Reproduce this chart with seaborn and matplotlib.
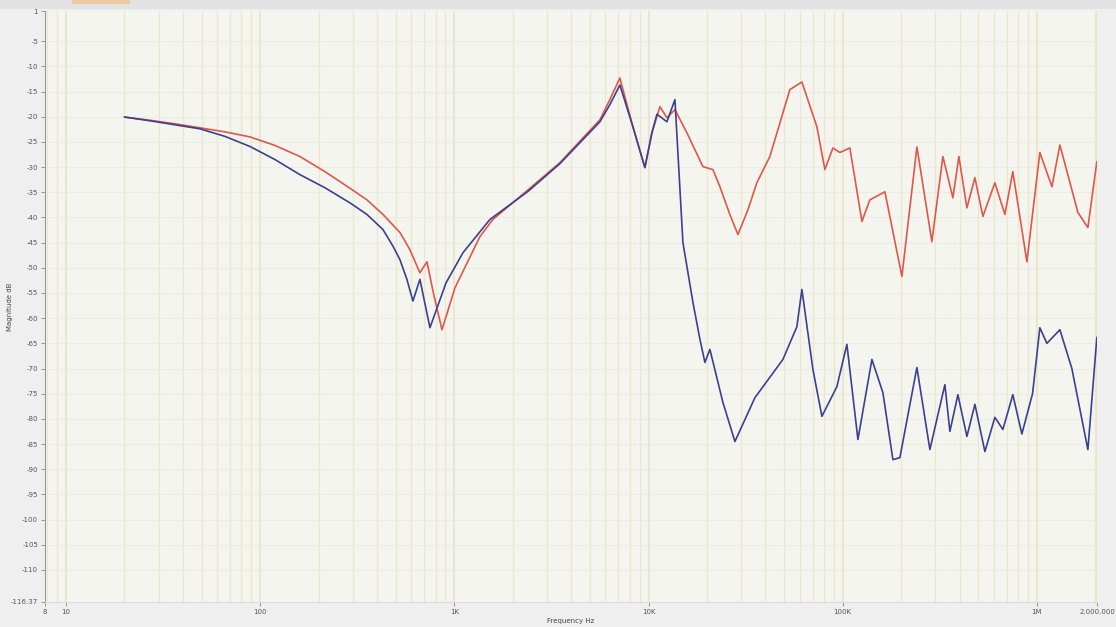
import matplotlib
matplotlib.use("Agg")
import matplotlib.pyplot as plt
import matplotlib.patches as mpatches
import seaborn as sns
import pandas as pd

# frequenze (Hz) e ampiezze (dB) - curva rossa
freq_red = [20, 27.1, 36.4, 49, 65.9, 88.6, 119.2, 160.3, 215.6, 290,
            354.8, 429, 525, 590.6, 665, 723, 780, 864, 1007, 1355,
            1580, 2400, 3500, 5620, 6324, 7120, 8313, 9580, 10410, 11450,
            12440, 13680, 15770, 19060, 21460, 23320, 26240, 28870, 32500, 36150,
            42170, 53480, 61650, 73660, 80980, 89040, 96740, 108900, 125600, 138000,
            164900, 201800, 241100, 287900, 328100, 369400, 396700, 436200, 479600, 527300,
            607700, 684300, 752000, 888400, 1036000, 1195000, 1314000, 1626000, 1831000, 2037000]
db_red = [-20.06, -20.7, -21.4, -22.2, -23.0, -24.0, -25.7, -27.9, -30.9, -34.2,
          -36.5, -39.4, -43.0, -46.4, -51.0, -48.8, -55.0, -62.3, -54.0, -43.8,
          -40.4, -34.5, -29.1, -20.6, -16.6, -12.3, -22.0, -30.1, -23.2, -18.0,
          -20.2, -18.6, -23.2, -29.9, -30.5, -33.9, -39.4, -43.4, -38.5, -33.1,
          -27.9, -14.6, -13.1, -22.0, -30.5, -26.2, -27.1, -26.2, -40.8, -36.5,
          -34.9, -51.7, -26.0, -44.8, -27.9, -36.1, -27.9, -38.1, -32.1, -39.8,
          -33.1, -39.4, -30.9, -48.8, -27.1, -33.9, -25.6, -39.0, -42.0, -28.9]

# curva blu
freq_blue = [20, 27.1, 36.4, 49, 65.9, 88.6, 119.2, 160.3, 215.6, 290,
             354.8, 429, 483, 525, 570, 612, 665, 749, 906, 1108,
             1525, 2400, 3500, 5620, 6324, 7120, 8313, 9580, 10410, 11050,
             12440, 13680, 15040, 16940, 18400, 19520, 20710, 24150, 27860, 35310,
             49220, 58090, 61650, 70270, 78160, 93350, 105100, 119800, 141400, 161100,
             181400, 197000, 241100, 281200, 336000, 356500, 392000, 436200, 479600, 539900,
             607700, 668300, 752000, 837000, 950000, 1036000, 1126000, 1314000, 1514000, 1831000,
             2037000]
db_blue = [-20.06, -20.8, -21.6, -22.4, -23.9, -25.9, -28.5, -31.5, -34.1, -37.1,
           -39.4, -42.4, -45.7, -48.4, -52.3, -56.6, -52.3, -61.9, -53.0, -47.0,
           -40.4, -34.8, -29.3, -21.0, -17.6, -13.7, -22.0, -30.1, -23.2, -19.5,
           -21.0, -16.6, -45.0, -56.9, -64.2, -68.8, -66.2, -76.7, -84.5, -75.8,
           -68.2, -61.7, -54.3, -70.2, -79.5, -73.6, -65.2, -84.1, -68.2, -74.8,
           -88.1, -87.7, -69.8, -86.1, -73.2, -82.5, -75.2, -83.5, -77.1, -86.5,
           -79.7, -82.1, -75.2, -83.0, -75.0, -61.9, -65.0, -62.3, -70.0, -86.1,
           -63.8]

ytick_vals = [1] + list(range(-5, -111, -5)) + [-116.37]
ytick_labels = ["1"] + [str(v) for v in range(-5, -111, -5)] + ["-116.37"]
xtick_vals = [7.8, 10, 100, 1000, 10000, 100000, 1000000, 2040000]
xtick_labels = ["8", "10", "100", "1K", "10K", "100K", "1M", "2.000.000"]

df_red = pd.DataFrame({"f": freq_red, "dB": db_red})
df_blue = pd.DataFrame({"f": freq_blue, "dB": db_blue})

sns.set_style("white")
plt.rcParams["font.family"] = ["DejaVu Sans"]

fig = plt.figure(figsize=(11.16, 6.27), dpi=100, facecolor="#efefef")
ax = fig.add_axes([45/1116, 1 - 602/627, (1097-45)/1116, (602-11)/627])
ax.set_facecolor("#f5f5ef")

ax.set_xscale("log")
ax.set_xlim(7.8, 2040000)
ax.set_ylim(-116.37, 1)

# griglia tenue
ax.grid(True, which="major", axis="x", color="#e9e4c4", linewidth=1.2)
ax.grid(True, which="minor", axis="x", color="#ece8cf", linewidth=1.0)
for v in range(-5, -111, -5):
    ax.axhline(v, color="#ecece4", linewidth=0.8, zorder=0)

sns.lineplot(data=df_red, x="f", y="dB", ax=ax, color="#e0574a", linewidth=1.2,
             estimator=None, sort=False)
sns.lineplot(data=df_blue, x="f", y="dB", ax=ax, color="#3c4090", linewidth=1.2,
             estimator=None, sort=False)

ax.set_yticks(ytick_vals)
ax.set_yticklabels(ytick_labels, fontsize=5, color="#555555")
ax.set_xticks(xtick_vals)
ax.set_xticklabels(xtick_labels, fontsize=5, color="#555555")
ax.xaxis.set_minor_formatter(matplotlib.ticker.NullFormatter())
ax.tick_params(axis="x", which="minor", length=0)
ax.tick_params(axis="both", which="major", length=3, width=0.6, color="#888888", pad=2)
ax.tick_params(axis="y", left=True)
ax.tick_params(axis="x", bottom=True)

for side in ["top", "right"]:
    ax.spines[side].set_visible(False)
ax.spines["left"].set_color("#999999")
ax.spines["bottom"].set_color("#dcdcdc")
ax.spines["left"].set_linewidth(0.8)

ax.set_xlabel("Frequency Hz", fontsize=5, color="#444444", labelpad=2)
ax.set_ylabel("Magnitude dB", fontsize=5, color="#444444")
ax.yaxis.set_label_coords(-0.03, 0.5)

# barra superiore stile finestra
fig.patches.append(mpatches.Rectangle((0, 1 - 9/627), 1, 9/627, transform=fig.transFigure,
                                      facecolor="#e2e2e2", edgecolor="none", zorder=0))
fig.patches.append(mpatches.Rectangle((72/1116, 1 - 4/627), 58/1116, 4/627, transform=fig.transFigure,
                                      facecolor="#e8c9a0", edgecolor="none", zorder=1))

fig.savefig("out.png", dpi=100, facecolor=fig.get_facecolor())
